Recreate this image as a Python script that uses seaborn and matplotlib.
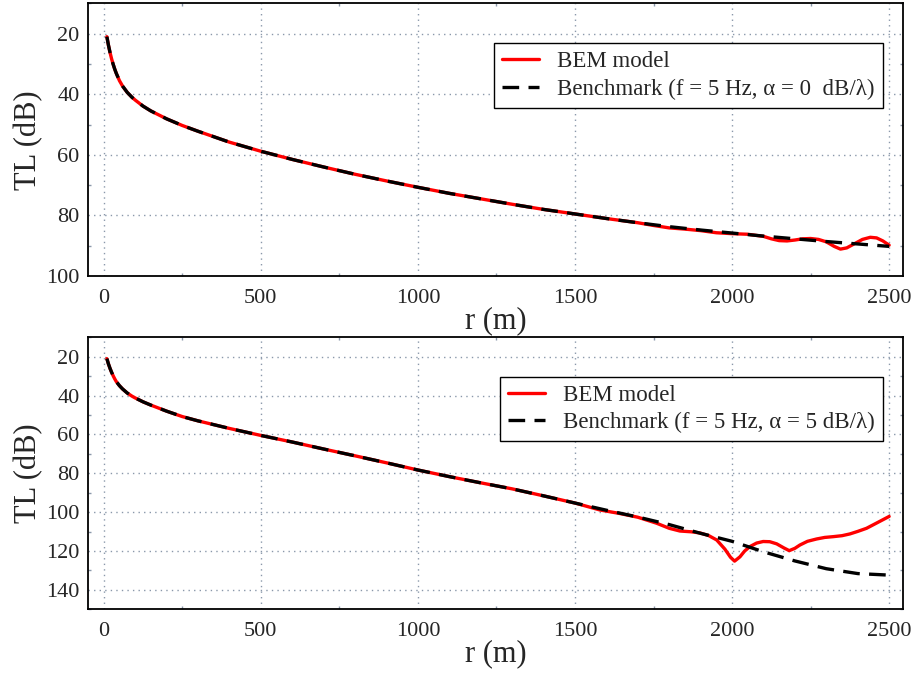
"""
Transmission loss vs range: BEM model against benchmark, two attenuation cases.
"""

import matplotlib.pyplot as plt
import matplotlib.ticker as mticker
import pandas as pd
import seaborn as sns

# --- data ---
r_bench = [10, 15, 20, 25, 30, 35, 40, 50, 60, 75, 90, 100, 125, 150, 200, 250,
           300, 400, 500, 600, 700, 800, 900, 1000, 1100, 1200, 1300, 1400, 1500,
           1600, 1700, 1800, 1900, 2000, 2100, 2200, 2300, 2400, 2500]

tl_bench_a0 = [21.0, 23.8, 26.2, 28.3, 30.1, 31.7, 33.1, 35.5, 37.3, 39.4, 41.0,
               41.9, 43.9, 45.5, 48.1, 50.3, 52.2, 55.8, 58.8, 61.5, 64.0, 66.4,
               68.6, 70.7, 72.7, 74.5, 76.3, 78.0, 79.5, 81.0, 82.4, 83.7, 84.8,
               85.8, 86.8, 87.7, 88.6, 89.4, 90.2]

tl_bench_a5 = [21.0, 23.7, 26.0, 28.0, 29.8, 31.4, 32.8, 34.9, 36.6, 38.7, 40.3,
               41.2, 43.2, 44.9, 48.0, 50.8, 53.0, 56.9, 60.5, 63.9, 67.5, 71.0,
               74.6, 78.3, 81.7, 84.9, 88.0, 91.6, 95.3, 99.0, 102.5, 106.4, 110.9,
               115.0, 120.4, 125.1, 129.1, 131.6, 132.4]

r_bem_a0 = r_bench[:31] + [1750, 1800, 1850, 1900, 1950, 2000, 2050, 2100, 2125,
                           2150, 2175, 2200, 2225, 2250, 2275, 2300, 2325, 2345,
                           2365, 2390, 2415, 2440, 2460, 2480, 2500]

tl_bem_a0 = tl_bench_a0[:31] + [83.3, 84.1, 84.5, 85.0, 85.7, 86.0, 86.2, 86.9,
                                87.7, 88.3, 88.4, 88.1, 87.7, 87.6, 87.9, 88.7,
                                90.2, 91.1, 90.7, 89.3, 87.9, 87.2, 87.4, 88.4,
                                89.8]

r_bem_a5 = r_bench[:29] + [1580, 1640, 1700, 1760, 1800, 1834, 1870, 1898, 1925,
                           1951, 1977, 1995, 2008, 2025, 2040, 2057, 2078, 2099,
                           2120, 2142, 2165, 2182, 2200, 2216, 2240, 2269, 2295,
                           2322, 2350, 2375, 2400, 2428, 2460, 2500]

tl_bem_a5 = tl_bench_a5[:29] + [98.9, 100.6, 102.6, 105.7, 108.3, 109.7, 110.1,
                                110.7, 112.0, 114.3, 119.0, 123.2, 125.2, 123.0,
                                120.0, 117.7, 115.9, 115.1, 115.2, 116.3, 118.4,
                                119.8, 118.6, 116.9, 115.0, 113.8, 113.0, 112.6,
                                112.1, 111.2, 109.9, 108.3, 105.6, 102.2]

panels = [
    (r_bem_a0, tl_bem_a0, tl_bench_a0,
     "Benchmark (f = 5 Hz, α = 0  dB/λ)", (10, 100)),
    (r_bem_a5, tl_bem_a5, tl_bench_a5,
     "Benchmark (f = 5 Hz, α = 5 dB/λ)", (10, 150)),
]

sns.set_theme(style="white")
plt.rcParams.update(
    {
        "font.family": ["Liberation Serif", "DejaVu Serif"],
        "axes.edgecolor": "black",
        "axes.linewidth": 1.3,
        "xtick.labelsize": 16,
        "ytick.labelsize": 16,
        "axes.labelsize": 22,
    }
)

fig = plt.figure(figsize=(9.15, 6.75), dpi=100)
axes_rects = [[0.0962, 0.591, 0.891, 0.404], [0.0962, 0.0973, 0.891, 0.403]]
grid_color = "#8a98aa"

for rect, (r_bem, tl_bem, tl_bench, bench_label, ylim) in zip(axes_rects, panels):
    ax = fig.add_axes(rect)
    bem_df = pd.DataFrame({"r": r_bem, "TL": tl_bem})
    bench_df = pd.DataFrame({"r": r_bench, "TL": tl_bench})

    sns.lineplot(data=bem_df, x="r", y="TL", color="#ff0000", lw=2.4,
                 label="BEM model", ax=ax, sort=False)
    sns.lineplot(data=bench_df, x="r", y="TL", color="black", lw=2.4,
                 ax=ax, sort=False, label=bench_label)
    ax.lines[-1].set_dashes((5, 2.8))

    ax.set_xlim(-50, 2545)
    ax.set_ylim(ylim[1], ylim[0])
    ax.xaxis.set_major_locator(mticker.MultipleLocator(500))
    ax.xaxis.set_minor_locator(mticker.MultipleLocator(250))
    ax.yaxis.set_major_locator(mticker.FixedLocator(range(20, ylim[1] + 1, 20)))
    ax.yaxis.set_minor_locator(mticker.MultipleLocator(10))
    ax.grid(True, which="major", ls=(0, (1, 3)), color=grid_color, lw=1.0)
    ax.tick_params(axis="x", which="major", length=0, pad=9)
    ax.tick_params(axis="y", which="major", length=0, pad=6)
    ax.tick_params(which="minor", direction="in", length=2, color=grid_color,
                   top=True, right=True, bottom=True, left=True)

    ax.set_xlabel("r (m)", labelpad=-1)
    ax.set_ylabel("TL (dB)", labelpad=2)

    leg = ax.legend(loc="upper right", bbox_to_anchor=(0.975, 0.855),
                    fontsize=16.5, frameon=True, fancybox=False, framealpha=1,
                    edgecolor="black", handlelength=1.6, handletextpad=0.8,
                    borderpad=0.35, labelspacing=0.28, borderaxespad=0)
    leg.get_frame().set_linewidth(1.0)
    # keep the dashed handle dashed
    leg.get_lines()[1].set_dashes((5, 2.8))

fig.savefig("out.png", dpi=100)
